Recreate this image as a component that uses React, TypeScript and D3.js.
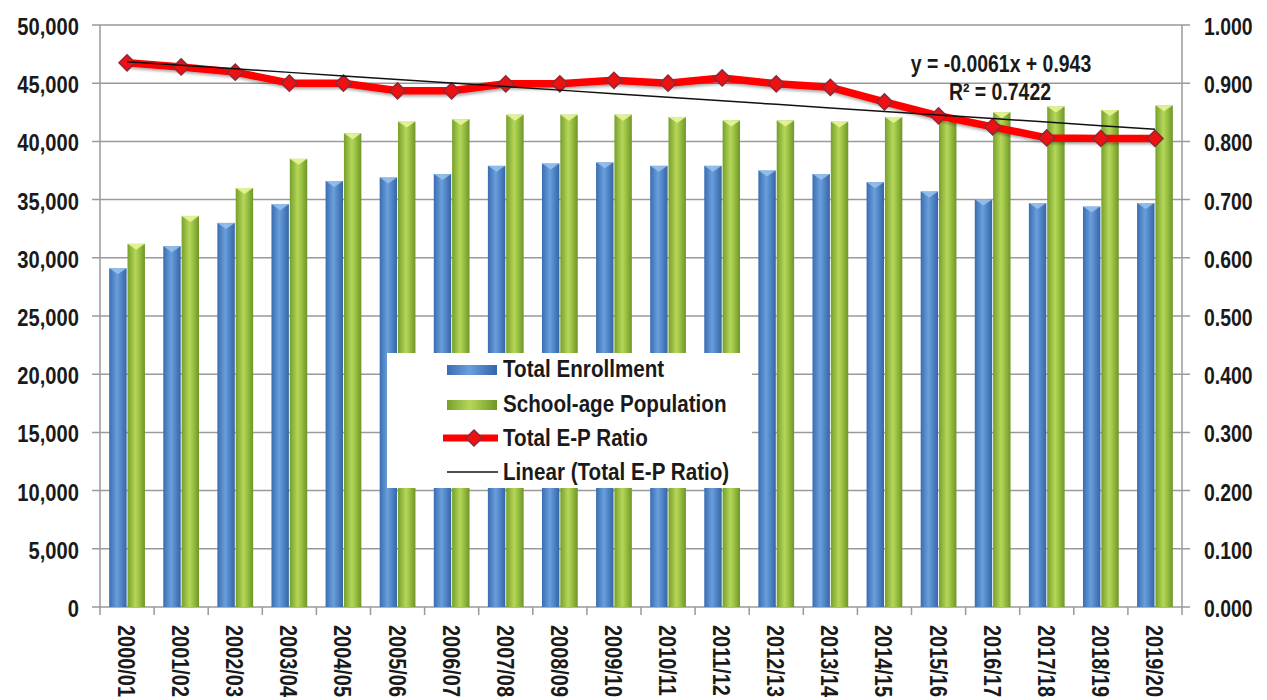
import React from "react";
import * as d3 from "d3";

const categories = ["2000/01","2001/02","2002/03","2003/04","2004/05","2005/06","2006/07","2007/08","2008/09","2009/10","2010/11","2011/12","2012/13","2013/14","2014/15","2015/16","2016/17","2017/18","2018/19","2019/20"];
const enrollment = [29100,31000,33000,34600,36600,36900,37200,37900,38100,38200,37900,37900,37500,37200,36500,35700,35000,34700,34400,34700];
const population = [31200,33600,36000,38500,40700,41700,41900,42300,42300,42300,42100,41800,41800,41700,42100,42100,42500,43000,42700,43100];
const ratio = [0.935,0.928,0.919,0.900,0.900,0.887,0.887,0.899,0.899,0.905,0.900,0.909,0.899,0.893,0.868,0.844,0.825,0.806,0.805,0.805];
const leftTicks = [0,5000,10000,15000,20000,25000,30000,35000,40000,45000,50000];
const rightTicks = [0,0.1,0.2,0.3,0.4,0.5,0.6,0.7,0.8,0.9,1.0];
const trendSlope = -0.0061;
const trendIntercept = 0.943;
const legendItems = ["Total Enrollment","School-age Population","Total E-P Ratio","Linear (Total E-P Ratio)"];

const W = 1267, H = 700;
const L = 100, R = 1182, T = 25, B = 607;
const FONT = "'Liberation Sans', Arial, sans-serif";
const FS = 24;
const SX = 0.84;

function T2({ x, y, anchor = "start", rotate = 0, children, sx = SX }: any) {
  return (
    <text
      transform={`translate(${x},${y}) rotate(${rotate}) scale(${sx},1)`}
      textAnchor={anchor}
      fontSize={FS}
      fontWeight="bold"
      fill="#1a1a1a"
    >
      {children}
    </text>
  );
}

export default function App() {
  const x = d3.scaleBand<string>().domain(categories).range([L, R]).padding(0);
  const sub = d3.scaleBand<string>().domain(["e", "p"]).range([0, x.bandwidth()]).paddingInner(0.05).paddingOuter(0.5);
  const yL = d3.scaleLinear().domain([0, 50000]).range([B, T]);
  const yR = d3.scaleLinear().domain([0, 1]).range([B, T]);
  const cx = (c: string) => (x(c) as number) + x.bandwidth() / 2;
  const fmtL = d3.format(",");
  const fmtR = d3.format(".3f");
  const line = d3.line<number>().x((_, i) => cx(categories[i])).y(d => yR(d));
  const diamond = d3.symbol().type(d3.symbolSquare).size(130)();
  const trend = d3.line<number>().x(i => cx(categories[i])).y(i => yR(trendSlope * (i + 1) + trendIntercept));
  const idx = categories.map((_, i) => i);

  return (
    <svg width={W} height={H} style={{ position: "absolute", left: 0, top: 0, background: "#fff" }} fontFamily={FONT}>
      <defs>
        <linearGradient id="gBlue" x1="0" x2="1" y1="0" y2="0">
          <stop offset="0" stopColor="#3a6db0" />
          <stop offset="0.45" stopColor="#6a9fdc" />
          <stop offset="0.6" stopColor="#5a8fcf" />
          <stop offset="1" stopColor="#3565a6" />
        </linearGradient>
        <linearGradient id="gGreen" x1="0" x2="1" y1="0" y2="0">
          <stop offset="0" stopColor="#76a02a" />
          <stop offset="0.45" stopColor="#b5d65a" />
          <stop offset="0.6" stopColor="#a3c94a" />
          <stop offset="1" stopColor="#6e9626" />
        </linearGradient>
        <filter id="shadow" x="-10%" y="-10%" width="120%" height="130%">
          <feDropShadow dx="1" dy="2" stdDeviation="1.5" floodColor="#000" floodOpacity="0.35" />
        </filter>
      </defs>

      {leftTicks.map(t => (
        <line key={"g" + t} x1={L - 8} x2={R + 8} y1={yL(t)} y2={yL(t)} stroke="#9a9a9a" strokeWidth={1.5} />
      ))}
      <line x1={L} x2={L} y1={T} y2={B} stroke="#9a9a9a" strokeWidth={1.5} />
      <line x1={R} x2={R} y1={T} y2={B} stroke="#9a9a9a" strokeWidth={1.5} />
      {d3.range(categories.length + 1).map(i => {
        const xx = L + i * x.step();
        return <line key={"xt" + i} x1={xx} x2={xx} y1={B} y2={B + 8} stroke="#9a9a9a" strokeWidth={1.5} />;
      })}

      {categories.map((c, i) => {
        const x0 = x(c) as number;
        const bw = sub.bandwidth();
        const xe = x0 + (sub("e") as number);
        const xp = x0 + (sub("p") as number);
        const ye = yL(enrollment[i]);
        const yp = yL(population[i]);
        return (
          <g key={c}>
            <rect x={xe} y={ye} width={bw} height={B - ye} fill="url(#gBlue)" />
            <path d={`M${xe},${ye} L${xe + bw / 2},${ye + 6} L${xe + bw},${ye} Z`} fill="#9cc6f0" opacity={0.8} />
            <rect x={xp} y={yp} width={bw} height={B - yp} fill="url(#gGreen)" />
            <path d={`M${xp},${yp} L${xp + bw / 2},${yp + 6} L${xp + bw},${yp} Z`} fill="#e6f59a" opacity={0.9} />
          </g>
        );
      })}

      {leftTicks.map(t => (
        <T2 key={"l" + t} x={79} y={yL(t) + 10} anchor="end">{fmtL(t)}</T2>
      ))}
      {rightTicks.map(t => (
        <T2 key={"r" + t} x={1204} y={yR(t) + 10} sx={0.81}>{fmtR(t)}</T2>
      ))}
      {categories.map(c => (
        <g key={"x" + c} transform={`translate(${cx(c) - 9},${B + 18})`}>
          <T2 x={0} y={0} rotate={90} sx={0.83}>{c}</T2>
        </g>
      ))}

      <path d={line(ratio) || ""} fill="none" stroke="#ff0000" strokeWidth={7.5} strokeLinejoin="round" filter="url(#shadow)" />
      {ratio.map((r, i) => (
        <path key={"m" + i} d={diamond || ""} transform={`translate(${cx(categories[i])},${yR(r)}) rotate(45)`} fill="#ee1111" stroke="#8a2a3a" strokeWidth={1.5} />
      ))}
      <path d={trend(idx) || ""} fill="none" stroke="#111" strokeWidth={1.5} />
      <T2 x={1001} y={72} anchor="middle" sx={0.81}>y = -0.0061x + 0.943</T2>
      <T2 x={1000} y={100} anchor="middle" sx={0.81}>R² = 0.7422</T2>

      <rect x={387} y={353} width={365} height={135} fill="#fff" />
      <rect x={447} y={365} width={50} height={10} fill="url(#gBlue)" />
      <rect x={447} y={400} width={50} height={10} fill="url(#gGreen)" />
      <line x1={443} x2={498} y1={438} y2={438} stroke="#ff0000" strokeWidth={7} />
      <path d={diamond || ""} transform="translate(474,438) rotate(45)" fill="#ee1111" stroke="#8a2a3a" strokeWidth={1.5} />
      <line x1={447} x2={498} y1={472} y2={472} stroke="#111" strokeWidth={1.5} />
      {legendItems.map((s, i) => (
        <T2 key={s} x={503} y={[377, 412, 446, 480][i]} sx={0.86}>{s}</T2>
      ))}
    </svg>
  );
}
